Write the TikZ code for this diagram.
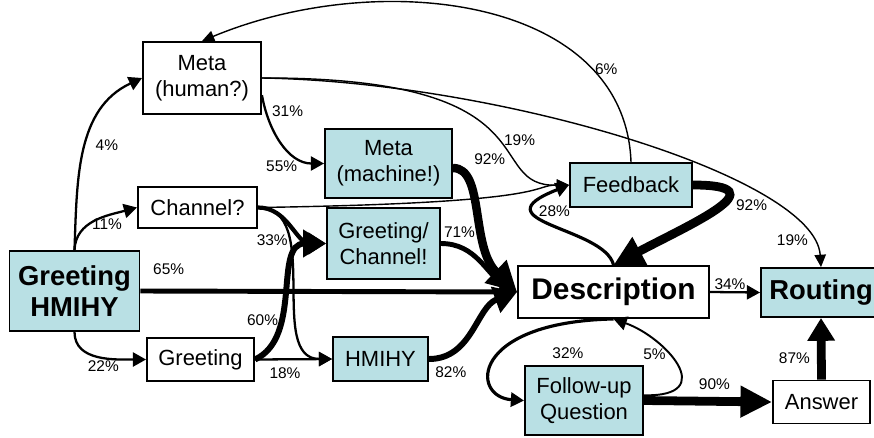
\documentclass[tikz,border=0pt]{standalone}
\usepackage{fontspec}
\setmainfont{Liberation Sans}
\usetikzlibrary{arrows.meta,positioning}
\definecolor{boxblue}{RGB}{185,224,228}
\newcommand{\boxfont}{\fontsize{12.5}{14.7}\selectfont}
\newcommand{\keyfont}{\fontsize{15.6}{18}\selectfont\bfseries}
\newcommand{\descfont}{\fontsize{17}{20}\selectfont\bfseries}
\newcommand{\pctfont}{\fontsize{8.8}{10}\selectfont}

\begin{document}
\begin{tikzpicture}[x=0.02cm, y=0.02cm,
		box/.style={draw, line width=1.1pt, align=center, inner sep=1pt, font=\boxfont},
		hot/.style={box, fill=boxblue},
		pct/.style={font=\pctfont, inner sep=1pt},
		hairflow/.style={line width=0.8pt, -{Triangle[length=7pt,width=6.5pt]}},
		liteflow/.style={line width=1.3pt, -{Triangle[length=7.5pt,width=8pt]}},
		midflow/.style={line width=2.4pt, -{Triangle[length=10pt,width=12pt]}},
		heavyflow/.style={line width=3.4pt, -{Triangle[length=13pt,width=15pt]}},
		bigflow/.style={line width=5pt, -{Triangle[length=17pt,width=17pt]}},
		via/.style 2 args={to path={.. controls #1 and #2 .. (\tikztotarget) \tikztonodes}}]

		\useasboundingbox (0,0) rectangle (874,437);

		\node[box, minimum width=2.36cm, minimum height=1.44cm] (metah) at (202,359) {Meta\\(human?)};
		\node[hot, minimum width=2.54cm, minimum height=1.38cm] (metam) at (388.5,273.5) {Meta\\(machine!)};
		\node[box, minimum width=2.38cm, minimum height=0.82cm] (chan) at (197.5,229.5) {Channel?};
		\node[hot, minimum width=2.26cm, minimum height=1.42cm] (grch) at (383.5,193.5) {Greeting/\\Channel!};
		\node[hot, font=\keyfont, minimum width=2.6cm, minimum height=1.6cm] (gh) at (74.5,146) {Greeting\\HMIHY};
		\node[box, minimum width=2.14cm, minimum height=0.86cm] (greet) at (200.5,77.5) {Greeting};
		\node[hot, minimum width=1.9cm, minimum height=0.88cm] (hmihy) at (380.5,78) {HMIHY};
		\node[hot, minimum width=2.44cm, minimum height=0.88cm] (fb) at (631,252) {Feedback};
		\node[box, font=\descfont, minimum width=3.82cm, minimum height=1.04cm] (desc) at (613.5,145) {Description};
		\node[hot, font=\keyfont, minimum width=2.4cm, minimum height=0.98cm] (rout) at (821,144.5) {Routing};
		\node[hot, minimum width=2.36cm, minimum height=1.38cm] (fq) at (584,36.5) {Follow-up\\Question};
		\node[box, minimum width=1.94cm, minimum height=0.86cm] (ans) at (821.5,35) {Answer};

		\path
		(gh.north) edge [liteflow, out=88, in=205] node [pct, pos=0.52, right=4pt] {4\%} (metah.west)
		(gh.north) edge [liteflow, out=88, in=195] node [pct, pos=0.65, below] {11\%} (chan.west)
		(gh.south) edge [liteflow, out=270, in=180] node [pct, pos=0.55, below] {22\%} (greet.west)
		(gh.east) edge [midflow, line width=2.8pt] node [pct, pos=0.075, above=7pt] {65\%} (desc.west)

		(metah.-16) edge [liteflow, out=-80, in=180] node [pct, pos=0.15, right=2pt] {31\%}
			node [pct, pos=0.75, below left] {55\%} (metam.west)
		(metah.east) edge [hairflow, via={(560,360)}{(480,250)}] node [pct, pos=0.55, right] {19\%} (fb.west)
		(metah.east) edge [hairflow, via={(500,355)}{(815,260)}] node [pct, pos=0.9, left] {19\%} (rout.north)

		(fb.north) edge [hairflow, via={(625,440)}{(380,470)}] node [pct, pos=0.23, right] {6\%} (metah.north)
		(fb.east) edge [bigflow, out=0, in=28, looseness=2] node [pct, pos=0.45, right=5pt] {92\%} (desc.north)
		(desc.north) edge [liteflow, line width=1.8pt, via={(605,210)}{(475,215)}] node [pct, pos=0.7, right] {28\%} (fb.west)

		(chan.east) edge [hairflow, via={(560,234)}{(530,252)}] (fb.west)
		(chan.east) edge [midflow, out=0, in=180] (grch.west)
		(chan.east) edge [liteflow, out=0, in=180] node [pct, pos=0.3, left] {33\%} (hmihy.west)

		(greet.east) edge [heavyflow, out=25, in=180] node [pct, pos=0.33, left] {60\%} (grch.west)
		(greet.east) edge [liteflow] node [pct, pos=0.39, below=3pt] {18\%} (hmihy.west)

		(metam.-4) edge [bigflow, line width=4.8pt, via={(485,269)}{(470,190)}] node [pct, pos=0.1, above right, xshift=4pt] {92\%} (desc.west)
		(grch.east) edge [midflow, line width=2.8pt, out=0, in=150] node [pct, pos=0.2, above=3pt] {71\%} (desc.west)
		(hmihy.east) edge [heavyflow, out=0, in=200] node [pct, pos=0.2, below=5pt] {82\%} (desc.west)

		(desc.east) edge [liteflow] node [pct, pos=0.4, above] {34\%} (rout.west)
		(desc.south) edge [liteflow, line width=1.8pt, via={(470,115)}{(470,40)}] node [pct, pos=0.12, below=12pt] {32\%} (fq.west)
		(fq.5) edge [liteflow, line width=1.1pt, via={(720,40)}{(665,100)}] node [pct, pos=0.6, left] {5\%} (desc.south)

		(fq.east) edge [bigflow, -{Triangle[length=18pt,width=17pt]}] node [pct, pos=0.55, above=3pt] {90\%} (ans.west)
		(ans.north) edge [bigflow, -{Triangle[length=13pt,width=15pt]}] node [pct, pos=0.34, left=3pt] {87\%} (rout.south)
		;
	\end{tikzpicture}
\end{document}
